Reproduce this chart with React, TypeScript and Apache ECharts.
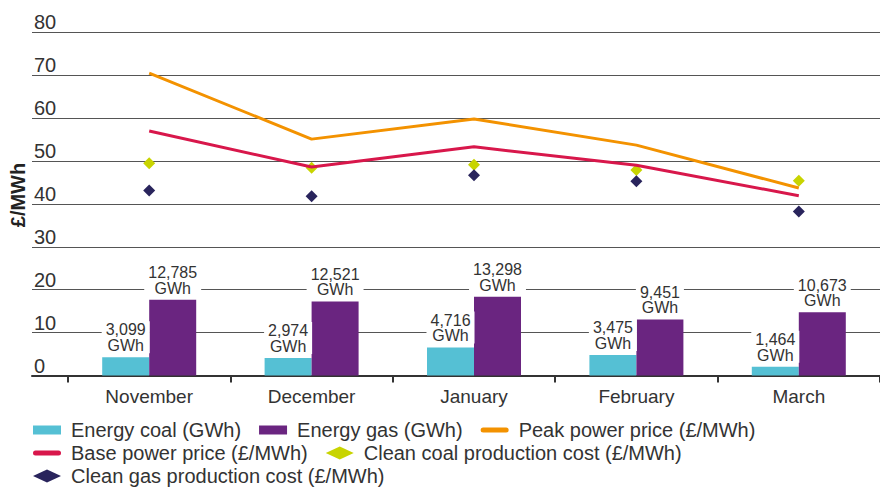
import React, { useEffect, useRef } from "react";
import * as echarts from "echarts";

const months = ["November", "December", "January", "February", "March"];
const energyCoal = [3099, 2974, 4716, 3475, 1464];
const energyGas = [12785, 12521, 13298, 9451, 10673];
const peakPrice = [70.5, 55.1, 59.8, 53.7, 43.7];
const basePrice = [57.0, 48.6, 53.3, 49.0, 41.9];
const cleanCoalCost = [49.5, 48.4, 49.1, 47.9, 45.4];
const cleanGasCost = [43.1, 41.8, 46.7, 45.3, 38.2];

const FONT = "'Liberation Sans', Arial, Helvetica, sans-serif";
const TXT = "#333333";
const GRIDC = "#555555";

const C_COAL = "#55C0D4";
const C_GAS = "#6A2580";
const C_PEAK = "#F39200";
const C_BASE = "#D8174B";
const C_CCOAL = "#C8D400";
const C_CGAS = "#29245C";

export default function App() {
  const ref = useRef<HTMLDivElement>(null);
  useEffect(() => {
    if (!ref.current) return;
    const chart = echarts.init(ref.current, undefined, { renderer: "svg" });
    const gwhLabel = (p: any) =>
      Number(p.value).toLocaleString("en-US") + "\nGWh";
    const barLabel = {
      show: true,
      position: "top",
      distance: 4,
      formatter: gwhLabel,
      fontSize: 16,
      lineHeight: 15.5,
      color: TXT,
      fontFamily: FONT,
      backgroundColor: "#ffffff",
      padding: [1, 4, 0, 4],
    };
    const legendCommon = {
      left: 33,
      padding: 0,
      itemWidth: 28,
      itemHeight: 13,
      itemGap: 18,
      textStyle: { fontSize: 20, color: TXT, fontFamily: FONT, padding: [0, 0, 0, 5] },
    };
    const rectIcon = "path://M0 0H28V9H0Z";
    const lineIcon =
      "path://M2.5 0H25.5A2.5 2.5 0 0 1 25.5 5H2.5A2.5 2.5 0 0 1 2.5 0Z";
    chart.setOption({
      animation: false,
      textStyle: { fontFamily: FONT },
      grid: [
        { left: 32, top: 32.3, width: 36, height: 343.2 },
        { left: 68, top: 32.3, width: 818, height: 343.2 },
      ],
      xAxis: [
        {
          type: "category",
          gridIndex: 0,
          data: [""],
          axisLine: { lineStyle: { color: TXT, width: 2 } },
          axisTick: { show: false },
          axisLabel: { show: false },
        },
        {
          type: "category",
          gridIndex: 1,
          data: months,
          axisLine: { lineStyle: { color: TXT, width: 2 } },
          axisTick: { show: true, length: 7, lineStyle: { color: TXT, width: 2 } },
          axisLabel: { fontSize: 19, color: TXT, margin: 11, fontFamily: FONT },
        },
      ],
      yAxis: [
        {
          type: "value",
          gridIndex: 0,
          min: 0,
          max: 80,
          interval: 10,
          axisLine: { show: false },
          axisTick: { show: false },
          axisLabel: {
            inside: true,
            margin: 2,
            fontSize: 20,
            color: TXT,
            verticalAlign: "bottom",
            fontFamily: FONT,
          },
          splitLine: { lineStyle: { color: GRIDC, width: 1 } },
        },
        {
          type: "value",
          gridIndex: 1,
          min: 0,
          max: 80,
          interval: 10,
          axisLine: { show: false },
          axisTick: { show: false },
          axisLabel: { show: false },
          splitLine: { lineStyle: { color: GRIDC, width: 1 } },
        },
        {
          type: "value",
          gridIndex: 1,
          min: 0,
          max: 58000,
          show: false,
          splitLine: { show: false },
        },
      ],
      legend: [
        {
          ...legendCommon,
          top: 420,
          data: [
            { name: "Energy coal (GWh)", icon: rectIcon },
            { name: "Energy gas (GWh)", icon: rectIcon },
            { name: "Peak power price (£/MWh)", icon: lineIcon },
          ],
        },
        {
          ...legendCommon,
          top: 443,
          data: [
            { name: "Base power price (£/MWh)", icon: lineIcon },
            { name: "Clean coal production cost (£/MWh)", icon: "diamond" },
          ],
        },
        {
          ...legendCommon,
          top: 466,
          data: [{ name: "Clean gas production cost (£/MWh)", icon: "diamond" }],
        },
      ],
      graphic: [
        {
          type: "text",
          x: 17.5,
          y: 195,
          rotation: Math.PI / 2,
          style: {
            text: "£/MWh",
            font: `bold 20px ${FONT}`,
            fill: "#222222",
            textAlign: "center",
            textVerticalAlign: "middle",
          },
        },
      ],
      series: [
        {
          name: "Energy coal (GWh)",
          type: "bar",
          xAxisIndex: 1,
          yAxisIndex: 2,
          data: energyCoal,
          barWidth: 47,
          barGap: "0%",
          itemStyle: { color: C_COAL },
          label: barLabel,
        },
        {
          name: "Energy gas (GWh)",
          type: "bar",
          xAxisIndex: 1,
          yAxisIndex: 2,
          data: energyGas,
          barWidth: 47,
          barGap: "0%",
          itemStyle: { color: C_GAS },
          label: barLabel,
        },
        {
          name: "Peak power price (£/MWh)",
          type: "line",
          xAxisIndex: 1,
          yAxisIndex: 1,
          data: peakPrice,
          symbol: "none",
          lineStyle: { color: C_PEAK, width: 3 },
          itemStyle: { color: C_PEAK },
        },
        {
          name: "Base power price (£/MWh)",
          type: "line",
          xAxisIndex: 1,
          yAxisIndex: 1,
          data: basePrice,
          symbol: "none",
          lineStyle: { color: C_BASE, width: 3 },
          itemStyle: { color: C_BASE },
        },
        {
          name: "Clean coal production cost (£/MWh)",
          type: "scatter",
          xAxisIndex: 1,
          yAxisIndex: 1,
          data: cleanCoalCost,
          symbol: "diamond",
          symbolSize: 12,
          itemStyle: { color: C_CCOAL, opacity: 1 },
        },
        {
          name: "Clean gas production cost (£/MWh)",
          type: "scatter",
          xAxisIndex: 1,
          yAxisIndex: 1,
          data: cleanGasCost,
          symbol: "diamond",
          symbolSize: 12,
          itemStyle: { color: C_CGAS, opacity: 1 },
        },
      ],
    });
    return () => chart.dispose();
  }, []);
  return (
    <div
      ref={ref}
      style={{ position: "absolute", left: 0, top: 0, width: 880, height: 487, background: "#fff" }}
    />
  );
}
